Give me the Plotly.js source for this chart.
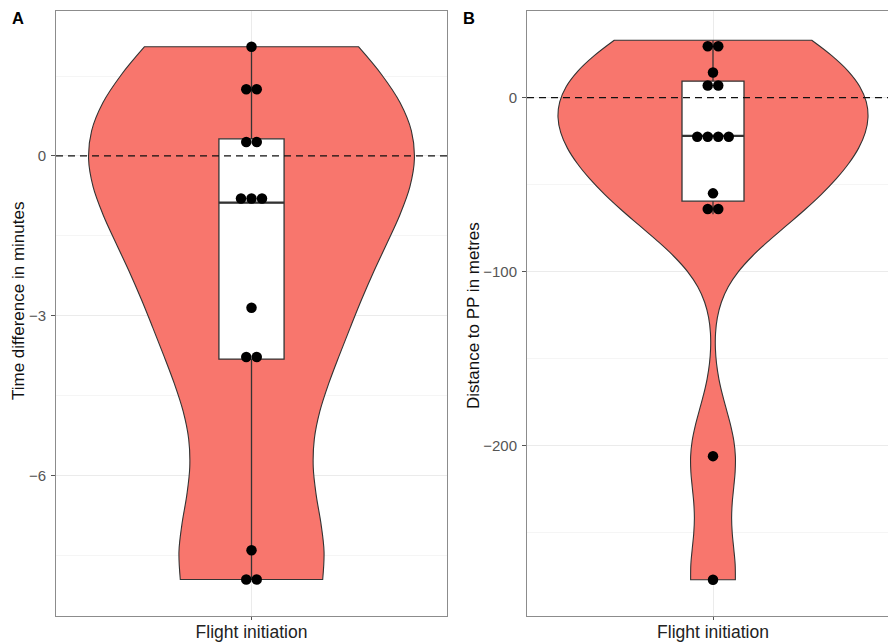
<!DOCTYPE html>
<html>
<head>
<meta charset="utf-8">
<script src="https://cdn.plot.ly/plotly-3.0.1.min.js"></script>
<style>
  html, body { margin: 0; padding: 0; overflow: hidden; background: #ffffff; }
  #chart { width: 900px; height: 644px; }
</style>
</head>
<body>
<div id="chart"></div>
<script>
// ---- data -------------------------------------------------------------
const category = 'Flight initiation';

// A: time difference at flight initiation, minutes
const timeDiffMin = [-7.95, -7.95, -7.4, -3.85, -3.7, -2.85, -0.95, -0.8, -0.65, 0.14, 0.38, 1.2, 1.3, 2.05];
// B: distance to PP at flight initiation, metres
const distanceM = [-277, -206, -67, -61, -55, -25, -23, -21, -20, 2, 12, 14.5, 26, 33];

const ticksA = [-6, -3, 0];
const minorTicksA = [-7.5, -4.5, -1.5, 1.5];
const ticksB = [-200, -100, 0];
const minorTicksB = [-250, -150, -50];

const titleA = 'Time difference in minutes';
const titleB = 'Distance to PP in metres';

// ---- page geometry (pixels) --------------------------------------------
const W = 900, H = 644;
const panelTop = 11, panelBottom = 615.7;
const panelA = { left: 56, right: 447, yRange: [-8.63, 2.72] };
const panelB = { left: 527, right: 899, yRange: [-297.7, 49.8] };
const xRange = [0.4, 1.6];
const boxWidth = 0.2;
const dotPx = 10.5;

const FONT = 'Liberation Sans, Arial, Helvetica, sans-serif';
const VIOLIN_FILL = '#F8766D';
const OUTLINE = '#333333';

// ---- statistics helpers -----------------------------------------------
function sorted(v) { return v.slice().sort((a, b) => a - b); }
function quantile7(v, p) {
  const s = sorted(v);
  const h = (s.length - 1) * p;
  const lo = Math.floor(h);
  const hi = Math.min(lo + 1, s.length - 1);
  return s[lo] + (h - lo) * (s[hi] - s[lo]);
}
function sd(v) {
  const m = v.reduce((a, b) => a + b, 0) / v.length;
  const ss = v.reduce((a, b) => a + (b - m) * (b - m), 0);
  return Math.sqrt(ss / (v.length - 1));
}
// R's bw.nrd0
function bwNrd0(v) {
  const iqr = quantile7(v, 0.75) - quantile7(v, 0.25);
  return 0.9 * Math.min(sd(v), iqr / 1.34) * Math.pow(v.length, -0.2);
}
// box statistics with Tukey whiskers (1.5 IQR)
function boxStats(v) {
  const q1 = quantile7(v, 0.25), q3 = quantile7(v, 0.75), iqr = q3 - q1;
  const inside = v.filter(x => x >= q1 - 1.5 * iqr && x <= q3 + 1.5 * iqr);
  return {
    q1: q1, median: quantile7(v, 0.5), q3: q3,
    lo: Math.min.apply(null, inside), hi: Math.max.apply(null, inside)
  };
}
// dot-density binning along y, dots stacked sideways around the centre
function dotPositions(v, stepX) {
  const s = sorted(v);
  const binwidth = (s[s.length - 1] - s[0]) / 30;
  const bins = [];
  let end = -Infinity;
  s.forEach(val => {
    if (val >= end) { bins.push([]); end = val + binwidth; }
    bins[bins.length - 1].push(val);
  });
  const xs = [], ys = [];
  bins.forEach(b => {
    const centre = (b[0] + b[b.length - 1]) / 2;
    b.forEach((_, j) => {
      xs.push(1 + (j - (b.length - 1) / 2) * stepX);
      ys.push(centre);
    });
  });
  return { xs, ys };
}

// ---- traces -----------------------------------------------------------
function panelTraces(values, panel, xa, ya) {
  const st = boxStats(values);
  const stepX = dotPx * (xRange[1] - xRange[0]) / (panel.right - panel.left);
  const dots = dotPositions(values, stepX);
  return [
    {
      type: 'violin', x: values.map(() => 1), y: values, xaxis: xa, yaxis: ya,
      width: 1, scalemode: 'width', spanmode: 'hard', bandwidth: bwNrd0(values),
      fillcolor: VIOLIN_FILL, line: { color: OUTLINE, width: 1.1 },
      points: false, box: { visible: false }, meanline: { visible: false },
      hoverinfo: 'skip', showlegend: false
    },
    {
      type: 'box', orientation: 'v', x: [1], xaxis: xa, yaxis: ya,
      q1: [st.q1], median: [st.median], q3: [st.q3],
      lowerfence: [st.lo], upperfence: [st.hi],
      width: boxWidth, whiskerwidth: 0, boxpoints: false,
      fillcolor: '#ffffff', line: { color: OUTLINE, width: 1.3 },
      hoverinfo: 'skip', showlegend: false
    },
    {
      // heavier median bar across the box
      type: 'scatter', mode: 'lines', xaxis: xa, yaxis: ya,
      x: [1 - boxWidth / 2, 1 + boxWidth / 2], y: [st.median, st.median],
      line: { color: OUTLINE, width: 2.2 },
      hoverinfo: 'skip', showlegend: false
    },
    {
      type: 'scatter', mode: 'markers', x: dots.xs, y: dots.ys, xaxis: xa, yaxis: ya,
      marker: { color: '#000000', size: dotPx, line: { width: 0 } },
      hoverinfo: 'skip', showlegend: false
    }
  ];
}

const data = [
  ...panelTraces(timeDiffMin, panelA, 'x', 'y'),
  ...panelTraces(distanceM, panelB, 'x2', 'y2')
];

// ---- axes -------------------------------------------------------------
const yDomain = [1 - panelBottom / H, 1 - panelTop / H];

function xAxis(panel, anchor) {
  return {
    domain: [panel.left / W, panel.right / W], anchor: anchor, range: xRange,
    tickmode: 'array', tickvals: [1], ticktext: [category],
    tickfont: { family: FONT, size: 17.5, color: '#222222' },
    ticks: 'outside', ticklen: 3, tickcolor: '#555555', tickwidth: 1, ticklabelstandoff: -3,
    showgrid: true, gridcolor: '#EBEBEB', gridwidth: 1,
    zeroline: false, showline: true, mirror: true, linecolor: '#8c8c8c', linewidth: 1,
    fixedrange: true
  };
}
function yAxis(panel, anchor, ticks, minor) {
  return {
    domain: yDomain, anchor: anchor, range: panel.yRange,
    tickmode: 'array', tickvals: ticks, ticktext: ticks.map(t => t < 0 ? '\u2212' + Math.abs(t) : String(t)),
    tickfont: { family: FONT, size: 15, color: '#555555' },
    ticks: 'outside', ticklen: 4, tickcolor: '#555555', tickwidth: 1, ticklabelstandoff: 2,
    showgrid: true, gridcolor: '#EBEBEB', gridwidth: 1,
    minor: { tickmode: 'array', tickvals: minor, showgrid: true, gridcolor: '#F3F3F3', gridwidth: 0.8, ticks: '' },
    zeroline: false, showline: true, mirror: true, linecolor: '#8c8c8c', linewidth: 1,
    fixedrange: true
  };
}

function zeroLine(xa, ya) {
  return {
    type: 'line', xref: xa + ' domain', x0: 0, x1: 1, yref: ya, y0: 0, y1: 0,
    line: { color: '#111111', width: 1.1, dash: '7px,5px' }, layer: 'above'
  };
}

function paperText(text, px, py, opts) {
  return Object.assign({
    text: text, xref: 'paper', yref: 'paper', x: px / W, y: 1 - py / H,
    xanchor: 'center', yanchor: 'middle', showarrow: false
  }, opts);
}

const layout = {
  width: W, height: H,
  margin: { l: 0, r: 0, t: 0, b: 0, pad: 0 },
  paper_bgcolor: '#ffffff', plot_bgcolor: '#ffffff',
  font: { family: FONT },
  showlegend: false,
  violinmode: 'overlay', boxmode: 'overlay',
  xaxis: xAxis(panelA, 'y'),
  yaxis: yAxis(panelA, 'x', ticksA, minorTicksA),
  xaxis2: xAxis(panelB, 'y2'),
  yaxis2: yAxis(panelB, 'x2', ticksB, minorTicksB),
  shapes: [zeroLine('x', 'y'), zeroLine('x2', 'y2')],
  annotations: [
    paperText(titleA, 18, 301, { textangle: -90, font: { family: FONT, size: 17, color: '#111111' } }),
    paperText(titleB, 474, 315, { textangle: -90, font: { family: FONT, size: 17, color: '#111111' } }),
    paperText('<b>A</b>', 18, 18.5, { font: { family: FONT, size: 16.5, color: '#000000' } }),
    paperText('<b>B</b>', 469, 18.5, { font: { family: FONT, size: 16.5, color: '#000000' } })
  ]
};

Plotly.newPlot('chart', data, layout, { displayModeBar: false, staticPlot: true });
</script>
</body>
</html>
